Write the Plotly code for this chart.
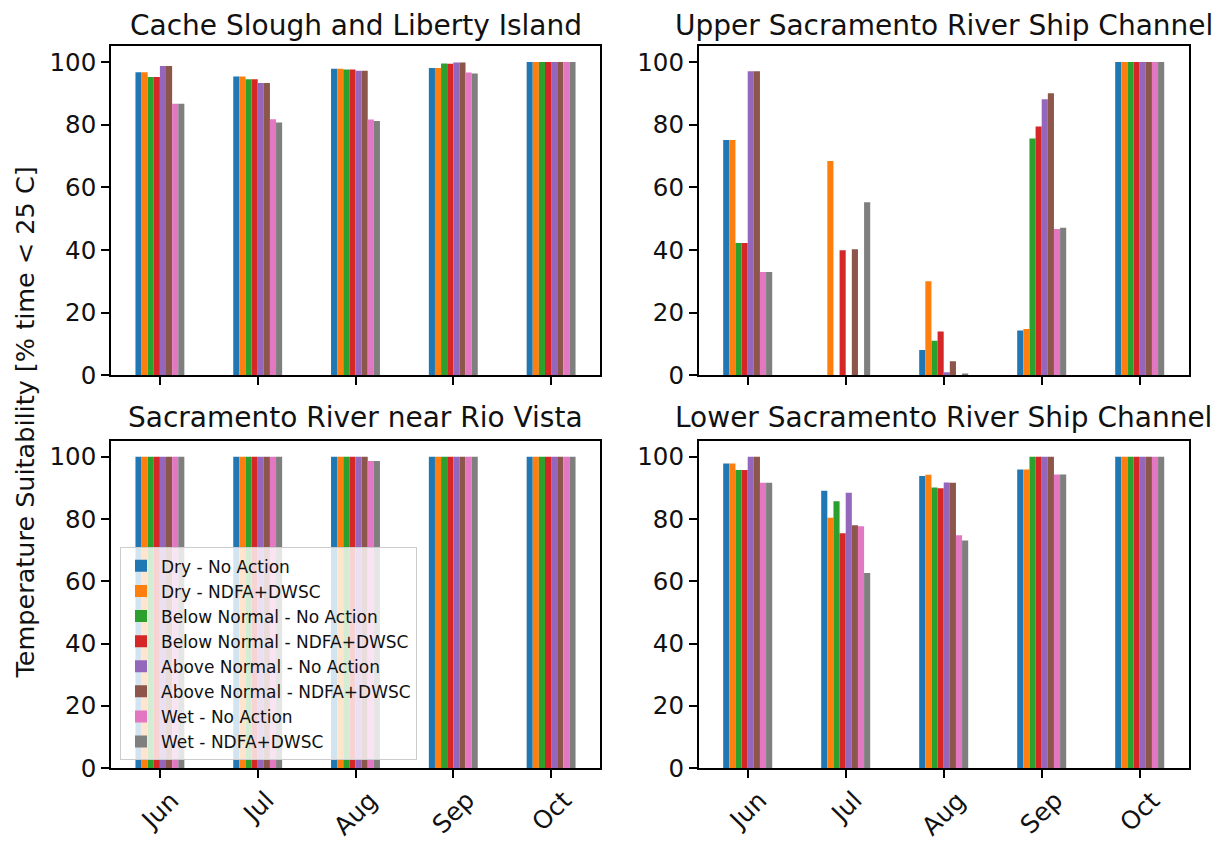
import plotly.graph_objects as go

months = ["Jun", "Jul", "Aug", "Sep", "Oct"]
series_names = [
    "Dry - No Action", "Dry - NDFA+DWSC",
    "Below Normal - No Action", "Below Normal - NDFA+DWSC",
    "Above Normal - No Action", "Above Normal - NDFA+DWSC",
    "Wet - No Action", "Wet - NDFA+DWSC",
]
colors = ["#1f77b4", "#ff7f0e", "#2ca02c", "#d62728",
          "#9467bd", "#8c564b", "#e377c2", "#7f7f7f"]
site_titles = ["Cache Slough and Liberty Island", "Upper Sacramento River Ship Channel",
               "Sacramento River near Rio Vista", "Lower Sacramento River Ship Channel"]
y_ticks = [0, 20, 40, 60, 80, 100]

# rows = series (same order as series_names), columns = months
cache_slough = [
    [96.7, 95.4, 97.8, 98.1, 100],
    [96.7, 95.4, 97.8, 98.1, 100],
    [95.2, 94.5, 97.6, 99.5, 100],
    [95.2, 94.5, 97.6, 99.4, 100],
    [98.7, 93.3, 97.2, 99.8, 100],
    [98.7, 93.3, 97.2, 99.8, 100],
    [86.7, 81.7, 81.6, 96.6, 100],
    [86.7, 80.7, 81.2, 96.3, 100],
]
upper_dwsc = [
    [75.1, 0.0, 8.1, 14.3, 100],
    [75.1, 68.4, 30.0, 14.8, 100],
    [42.2, 0.0, 11.0, 75.6, 100],
    [42.2, 39.9, 14.0, 79.4, 100],
    [97.0, 0.0, 1.0, 88.1, 100],
    [97.0, 40.2, 4.5, 90.0, 100],
    [33.0, 0.0, 0.0, 46.7, 100],
    [33.0, 55.2, 0.6, 47.1, 100],
]
rio_vista = [
    [100, 100, 100, 100, 100],
    [100, 100, 100, 100, 100],
    [100, 100, 100, 100, 100],
    [100, 100, 100, 100, 100],
    [100, 100, 100, 100, 100],
    [100, 100, 100, 100, 100],
    [100, 100, 98.6, 100, 100],
    [100, 100, 98.6, 100, 100],
]
lower_dwsc = [
    [97.8, 89.1, 93.8, 95.9, 100],
    [97.8, 80.4, 94.2, 95.9, 100],
    [95.7, 85.7, 90.1, 100, 100],
    [95.7, 75.4, 89.9, 100, 100],
    [100, 88.4, 91.7, 100, 100],
    [100, 78.0, 91.6, 100, 100],
    [91.6, 77.7, 74.8, 94.3, 100],
    [91.6, 62.7, 73.1, 94.3, 100],
]
sites = [cache_slough, upper_dwsc, rio_vista, lower_dwsc]

OFF = 8  # default page body margin
W, H = 1230 - OFF, 848 - OFF
FONT = "DejaVu Sans"

def px_x(p):
    return (p - OFF) / W

def px_y(p):
    return 1 - (p - OFF) / H

x_domains = [[px_x(111), px_x(600)], [px_x(698.7), px_x(1188.7)]]
y_domains = [[px_y(382), px_y(47)], [px_y(782), px_y(449)]]
title_y = [26, 425]

fig = go.Figure()
for i, site in enumerate(sites):
    ax = "" if i == 0 else str(i + 1)
    for s, vals in enumerate(site):
        fig.add_trace(go.Bar(
            x=months, y=vals, name=series_names[s],
            marker=dict(color=colors[s], line=dict(width=0)),
            showlegend=(i == 2), legendgroup=series_names[s],
            xaxis="x" + ax, yaxis="y" + ax,
        ))

layout = dict(
    width=W, height=H,
    margin=dict(l=0, r=0, t=0, b=0),
    paper_bgcolor="white", plot_bgcolor="white",
    barmode="group", bargap=0.5, bargroupgap=0,
    font=dict(family=FONT, color="black"),
    legend=dict(
        x=px_x(120), y=px_y(774), xanchor="left", yanchor="bottom",
        bgcolor="rgba(255,255,255,0.8)", bordercolor="#cccccc", borderwidth=1,
        font=dict(family=FONT, size=17, color="#111111"),
        tracegroupgap=0, itemwidth=30,
    ),
)

annotations = []
for i in range(4):
    r, c = divmod(i, 2)
    ax = "" if i == 0 else str(i + 1)
    layout["xaxis" + ax] = dict(
        domain=x_domains[c], anchor="y" + ax,
        type="category", categoryorder="array", categoryarray=months,
        range=[-0.5, 4.5],
        showline=True, linecolor="black", linewidth=1.6, mirror=True,
        ticks="outside", ticklen=8, tickwidth=1.6, tickcolor="black",
        showticklabels=False, showgrid=False, zeroline=False, fixedrange=True,
    )
    layout["yaxis" + ax] = dict(
        domain=y_domains[r], anchor="x" + ax,
        range=[0, 105], tickvals=y_ticks,
        showline=True, linecolor="black", linewidth=1.6, mirror=True,
        ticks="outside", ticklen=8, tickwidth=1.6, tickcolor="black",
        tickfont=dict(family=FONT, size=24.5, color="#111111"),
        showgrid=False, zeroline=False, fixedrange=True,
    )
    annotations.append(dict(
        text=site_titles[i], xref="paper", yref="paper",
        x=(x_domains[c][0] + x_domains[c][1]) / 2,
        y=px_y(title_y[r]),
        xanchor="center", yanchor="middle", showarrow=False,
        font=dict(family=FONT, size=28, color="#111111"),
    ))
    if r == 1:
        for m in months:
            annotations.append(dict(
                text=m, xref="x" + ax, yref="paper",
                x=m, y=px_y(797), xanchor="center", yanchor="top",
                textangle=-45, showarrow=False,
                font=dict(family=FONT, size=25, color="#111111"),
            ))

annotations.append(dict(
    text="Temperature Suitability [% time < 25 C]",
    xref="paper", yref="paper", x=px_x(25), y=px_y(430),
    xanchor="center", yanchor="middle", textangle=-90, showarrow=False,
    font=dict(family=FONT, size=25.5, color="#111111"),
))
layout["annotations"] = annotations

fig.update_layout(**layout)
fig.write_html("out.html")
